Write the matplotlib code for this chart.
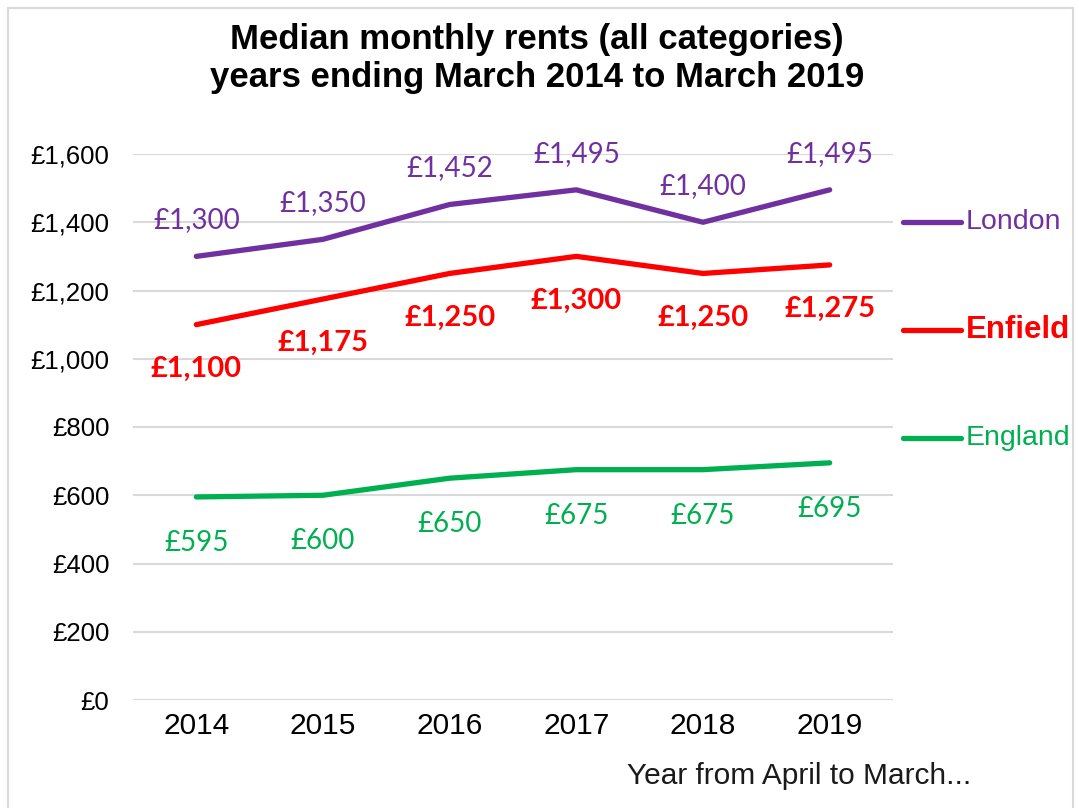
import matplotlib
matplotlib.use("Agg")
import matplotlib.pyplot as plt
from matplotlib.patches import Rectangle

years = ["2014", "2015", "2016", "2017", "2018", "2019"]
london = [1300, 1350, 1452, 1495, 1400, 1495]
enfield = [1100, 1175, 1250, 1300, 1250, 1275]
england = [595, 600, 650, 675, 675, 695]
yticks = [0, 200, 400, 600, 800, 1000, 1200, 1400, 1600]
ytick_labels = ["£0", "£200", "£400", "£600", "£800", "£1,000", "£1,200", "£1,400", "£1,600"]

C_LON = "#7030A0"
C_ENF = "#FF0000"
C_ENG = "#00B050"

W, H = 1079, 808
fig = plt.figure(figsize=(W / 100, H / 100), dpi=100)
fig.patch.set_facecolor("white")

# outer chart border
fig.add_artist(Rectangle((8 / W, -0.01), (1073 - 8) / W, (H - 8) / H + 0.01,
                         transform=fig.transFigure, fill=False,
                         edgecolor="#d9d9d9", linewidth=1.5))

ax = fig.add_axes([133 / W, (H - 700) / H, 760 / W, 546 / H])
x = list(range(len(years)))

for vals, col in [(london, C_LON), (enfield, C_ENF), (england, C_ENG)]:
    ax.plot(x, vals, color=col, lw=3.8, solid_capstyle="round",
            solid_joinstyle="round", zorder=3)

lab_font = "Lato"
for i, v in enumerate(london):
    ax.annotate(f"£{v:,}", (i, v), xytext=(0, 36), textcoords="offset pixels",
                ha="center", va="center", color=C_LON, fontsize=20,
                family=lab_font)
for i, v in enumerate(enfield):
    ax.annotate(f"£{v:,}", (i, v), xytext=(0, -44), textcoords="offset pixels",
                ha="center", va="center", color=C_ENF, fontsize=21,
                family=lab_font, fontweight="bold")
for i, v in enumerate(england):
    ax.annotate(f"£{v:,}", (i, v), xytext=(0, -46), textcoords="offset pixels",
                ha="center", va="center", color=C_ENG, fontsize=20,
                family=lab_font)

ax.set_xlim(-0.5, len(years) - 0.5)
ax.set_ylim(0, 1600)
ax.set_xticks(x)
ax.set_xticklabels(years, fontsize=21.5, family="Liberation Sans")
ax.set_yticks(yticks)
ax.set_yticklabels(ytick_labels, fontsize=18.5, family="Liberation Sans")
ax.tick_params(axis="both", length=0, colors="#000000")
ax.tick_params(axis="y", pad=17)
ax.tick_params(axis="x", pad=9)
ax.grid(axis="y", color="#d9d9d9", lw=1.5, zorder=0)
ax.set_axisbelow(True)
for s in ax.spines.values():
    s.set_visible(False)

# title
fig.text(537 / W, 1 - 40 / H, "Median monthly rents (all categories)",
         ha="center", va="center", fontsize=25, fontweight="bold",
         family="Liberation Sans")
fig.text(537 / W, 1 - 78 / H, "years ending March 2014 to March 2019",
         ha="center", va="center", fontsize=25, fontweight="bold",
         family="Liberation Sans")

# legend on the right
legend = [("London", C_LON, 222, "normal", 20.5),
          ("Enfield", C_ENF, 330, "bold", 22.5),
          ("England", C_ENG, 438, "normal", 20.5)]
for name, col, ypix, wt, fs in legend:
    yf = 1 - ypix / H
    fig.add_artist(plt.Line2D([903 / W, 961 / W], [yf, yf], color=col, lw=3.8,
                              solid_capstyle="round", transform=fig.transFigure))
    fig.text(966 / W, yf, name, color=col, ha="left", va="center",
             fontsize=fs, fontweight=wt, family="Liberation Sans")

fig.text(627 / W, 1 - 776 / H, "Year from April to March...", ha="left",
         va="center", fontsize=21.5, family="Liberation Sans", color="#1a1a1a")

fig.savefig("out.png", dpi=100, facecolor="white")
